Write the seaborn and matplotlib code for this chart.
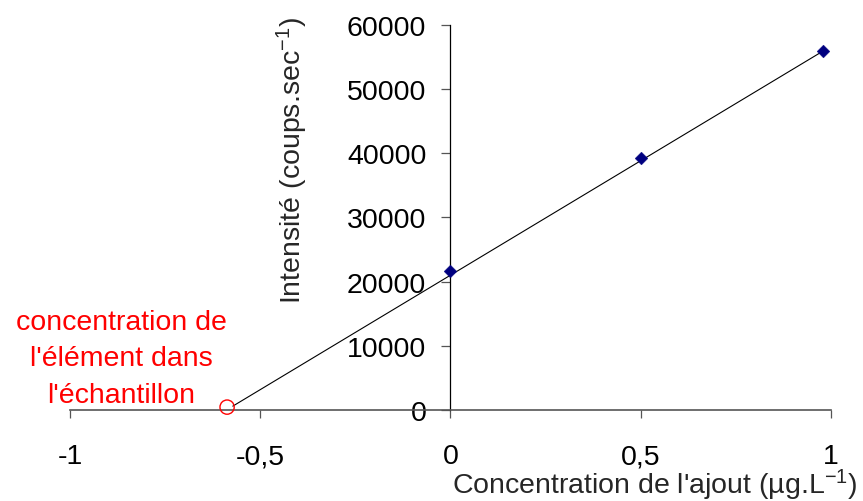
import matplotlib
matplotlib.use("Agg")
import matplotlib.pyplot as plt
import seaborn as sns
import pandas as pd

# ---- data ----
added_conc = [0.0, 0.5, 0.98]            # µg/L added
intensity = [21700, 39300, 55900]        # counts/s
fit_conc = [-0.572, 0.98]                # extrapolated calibration line
fit_intensity = [600, 55900]
sample_conc = [-0.587]                   # x-intercept (sample concentration)
sample_intensity = [450]
x_ticks = [-1, -0.5, 0, 0.5, 1]
x_tick_labels = ["-1", "-0,5", "0", "0,5", "1"]
y_ticks = [0, 10000, 20000, 30000, 40000, 50000, 60000]
y_tick_labels = ["0", "10000", "20000", "30000", "40000", "50000", "60000"]
annotation_lines = ["concentration de", "l'élément dans", "l'échantillon"]

sns.set_style("white")
plt.rcParams["font.family"] = ["Liberation Sans", "DejaVu Sans"]
plt.rcParams["mathtext.fontset"] = "custom"
plt.rcParams["mathtext.rm"] = "Liberation Sans"
plt.rcParams["mathtext.it"] = "Liberation Sans:italic"
plt.rcParams["mathtext.default"] = "regular"

FS = 20.5
W, H = 863, 502
fig = plt.figure(figsize=(W / 100, H / 100), dpi=100)
ax = fig.add_axes([70 / W, (H - 411) / H, 760.7 / W, 385.3 / H])

pts = pd.DataFrame({"x": added_conc, "y": intensity})
fit = pd.DataFrame({"x": fit_conc, "y": fit_intensity})
smp = pd.DataFrame({"x": sample_conc, "y": sample_intensity})

sns.lineplot(data=fit, x="x", y="y", color="black", linewidth=0.8, ax=ax, zorder=2)
sns.scatterplot(data=pts, x="x", y="y", marker="D", s=42, color="#000080",
                edgecolor="#000080", linewidth=0.3, ax=ax, zorder=3, clip_on=False)
sns.scatterplot(data=smp, x="x", y="y", marker="o", s=105, facecolor="none",
                edgecolor="red", linewidth=1.0, ax=ax, zorder=3, clip_on=False)

ax.set_xlim(-1, 1)
ax.set_ylim(0, 60000)
ax.spines["left"].set_position(("data", 0))
ax.spines["bottom"].set_position(("data", 0))
ax.spines["top"].set_visible(False)
ax.spines["right"].set_visible(False)
ax.spines["left"].set_color("black")
ax.spines["left"].set_linewidth(0.9)
ax.spines["bottom"].set_color("#555555")
ax.spines["bottom"].set_linewidth(1.2)

ax.set_xticks(x_ticks)
ax.set_xticklabels(x_tick_labels)
ax.set_yticks(y_ticks)
ax.set_yticklabels(y_tick_labels)
ax.tick_params(axis="x", direction="out", length=5.8, width=0.9, pad=18,
               labelsize=FS, colors="#555555", labelcolor="black", bottom=True)
ax.tick_params(axis="y", direction="out", length=6.5, width=0.9, pad=10.8,
               labelsize=FS, colors="#555555", labelcolor="black", left=True)
ax.set_xlabel("")
ax.set_ylabel("")

fig.text(858 / W, (H - 494) / H, "Concentration de l'ajout (µg.L$^{-1}$)",
         ha="right", va="baseline", fontsize=FS)
fig.text(292 / W, (H - 161) / H, "Intensité (coups.sec$^{-1}$)",
         ha="center", va="center", rotation=90, fontsize=FS)

for line, base in zip(annotation_lines, [329.5, 366, 403]):
    fig.text(121 / W, (H - base) / H, line, ha="center", va="baseline",
             fontsize=FS, color="red")

fig.savefig("out.png", dpi=100)
